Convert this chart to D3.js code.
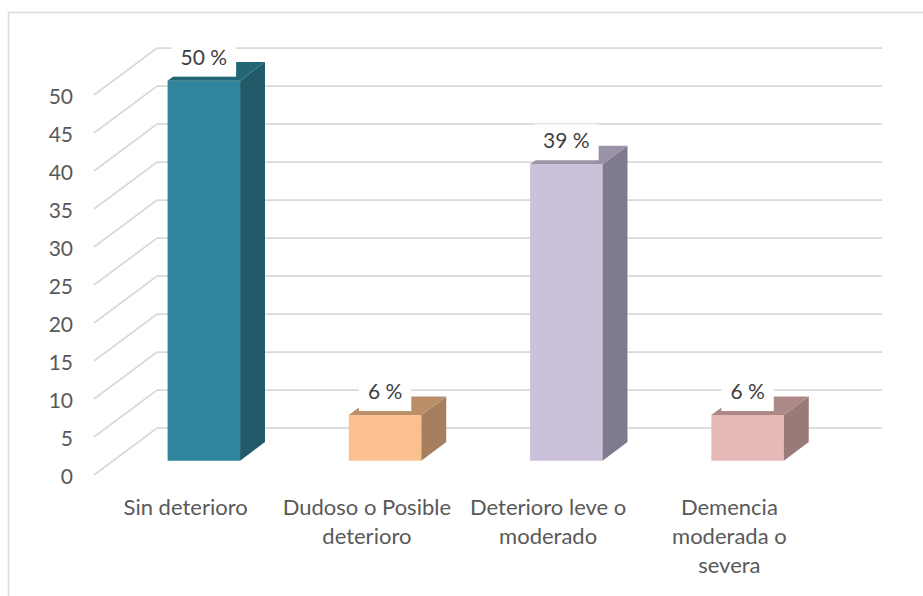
<!DOCTYPE html>
<html>
<head>
<meta charset="utf-8">
<script src="https://cdn.jsdelivr.net/npm/d3@7/dist/d3.min.js"></script>
<style>
  html, body { margin: 0; padding: 0; background: #fff; }
  svg { display: block; }
  text { font-family: Lato, "Open Sans", sans-serif; }
</style>
</head>
<body>
<svg id="chart" width="923" height="596"></svg>
<script>
// Categories (label lines) and percentages
const categories = ["Sin deterioro", "Dudoso o Posible deterioro", "Deterioro leve o moderado", "Demencia moderada o severa"];
const categoryLines = [
  ["Sin deterioro"],
  ["Dudoso o Posible", "deterioro"],
  ["Deterioro leve o", "moderado"],
  ["Demencia", "moderada o", "severa"]
];
const values = [50, 6, 39, 6];
const valueLabels = ["50 %", "6 %", "39 %", "6 %"];
const yTicks = [0, 5, 10, 15, 20, 25, 30, 35, 40, 45, 50];

// Face colours per bar: front, side, top
const frontColors = ["#31859c", "#fac090", "#ccc1da", "#e6b9b8"];
const sideColors  = ["#215a69", "#a67f5e", "#807a8e", "#9a7a79"];
const topColors   = ["#236676", "#ba8e69", "#9a92a6", "#ad8886"];

const svg = d3.select("#chart");

// Floor geometry: front-left corner, depth vector to the back wall
const frontLeft = 94, frontRight = 819;
const depth = { dx: 63, dy: -47 };
const barDepthFront = 0.305, barDepthBack = 0.70;

const x = d3.scaleBand().domain(categories).range([frontLeft, frontRight])
  .paddingInner(0.6).paddingOuter(0.3);
const xBand = d3.scaleBand().domain(categories).range([frontLeft, frontRight]);
const y = d3.scaleLinear().domain([0, 50]).range([475, 95]);

// Outer frame (top and left edges)
svg.append("path")
  .attr("d", "M8.5,596 L8.5,12.5 L923,12.5")
  .attr("fill", "none").attr("stroke", "#d9d9d9").attr("stroke-width", 1.5);

// Gridlines: side wall diagonals and back wall horizontals
const grid = svg.append("g").attr("stroke", "#d9d9d9").attr("stroke-width", 1.75).attr("fill", "none");
grid.selectAll("path").data(yTicks).join("path")
  .attr("d", d => {
    const yf = y(d);
    return `M${frontLeft},${yf} L${frontLeft + depth.dx},${yf + depth.dy} L${frontRight + depth.dx},${yf + depth.dy}`;
  });

// Y axis labels
svg.append("g").selectAll("text").data(yTicks).join("text")
  .attr("x", 73).attr("y", d => y(d) + 1.5)
  .attr("dy", "0.35em").attr("text-anchor", "end")
  .attr("font-size", 21).attr("fill", "#595959")
  .text(d => d);

// 3D bars
const bars = svg.append("g");
categories.forEach((c, i) => {
  const fx = depth.dx * barDepthFront, fy = depth.dy * barDepthFront;
  const ddx = depth.dx * (barDepthBack - barDepthFront), ddy = depth.dy * (barDepthBack - barDepthFront);
  const x0 = x(c) + fx, x1 = x0 + x.bandwidth();
  const yb = y(0) + fy, yt = y(values[i]) + fy;
  const g = bars.append("g");
  g.append("path").attr("fill", frontColors[i])
    .attr("d", `M${x0},${yb} L${x0},${yt} L${x1},${yt} L${x1},${yb} Z`);
  g.append("path").attr("fill", sideColors[i])
    .attr("d", `M${x1},${yb} L${x1},${yt} L${x1 + ddx},${yt + ddy} L${x1 + ddx},${yb + ddy} Z`);
  g.append("path").attr("fill", topColors[i])
    .attr("d", `M${x0},${yt} L${x1},${yt} L${x1 + ddx},${yt + ddy} L${x0 + ddx},${yt + ddy} Z`);
});

// Value labels on white boxes
const labels = svg.append("g");
categories.forEach((c, i) => {
  const fx = depth.dx * barDepthFront, fy = depth.dy * barDepthFront;
  const cx = x(c) + fx + x.bandwidth() / 2;
  const base = y(values[i]) + fy - 16;
  const t = labels.append("text")
    .attr("x", cx).attr("y", base).attr("text-anchor", "middle")
    .attr("font-size", 21).attr("fill", "#404040")
    .text(valueLabels[i]);
  const w = t.node().getComputedTextLength();
  labels.insert("rect", "text")
    .attr("x", cx - w / 2 - 9).attr("y", base - 24)
    .attr("width", w + 18).attr("height", 36)
    .attr("fill", "#fff");
});
labels.selectAll("text").raise();

// Category labels
const cat = svg.append("g");
categories.forEach((c, i) => {
  const cx = xBand(c) + xBand.bandwidth() / 2 + 1;
  const t = cat.append("text").attr("text-anchor", "middle")
    .attr("font-size", 22).attr("fill", "#595959");
  categoryLines[i].forEach((line, k) => {
    t.append("tspan").attr("x", cx).attr("y", 515 + k * 29).text(line);
  });
});
</script>
</body>
</html>
